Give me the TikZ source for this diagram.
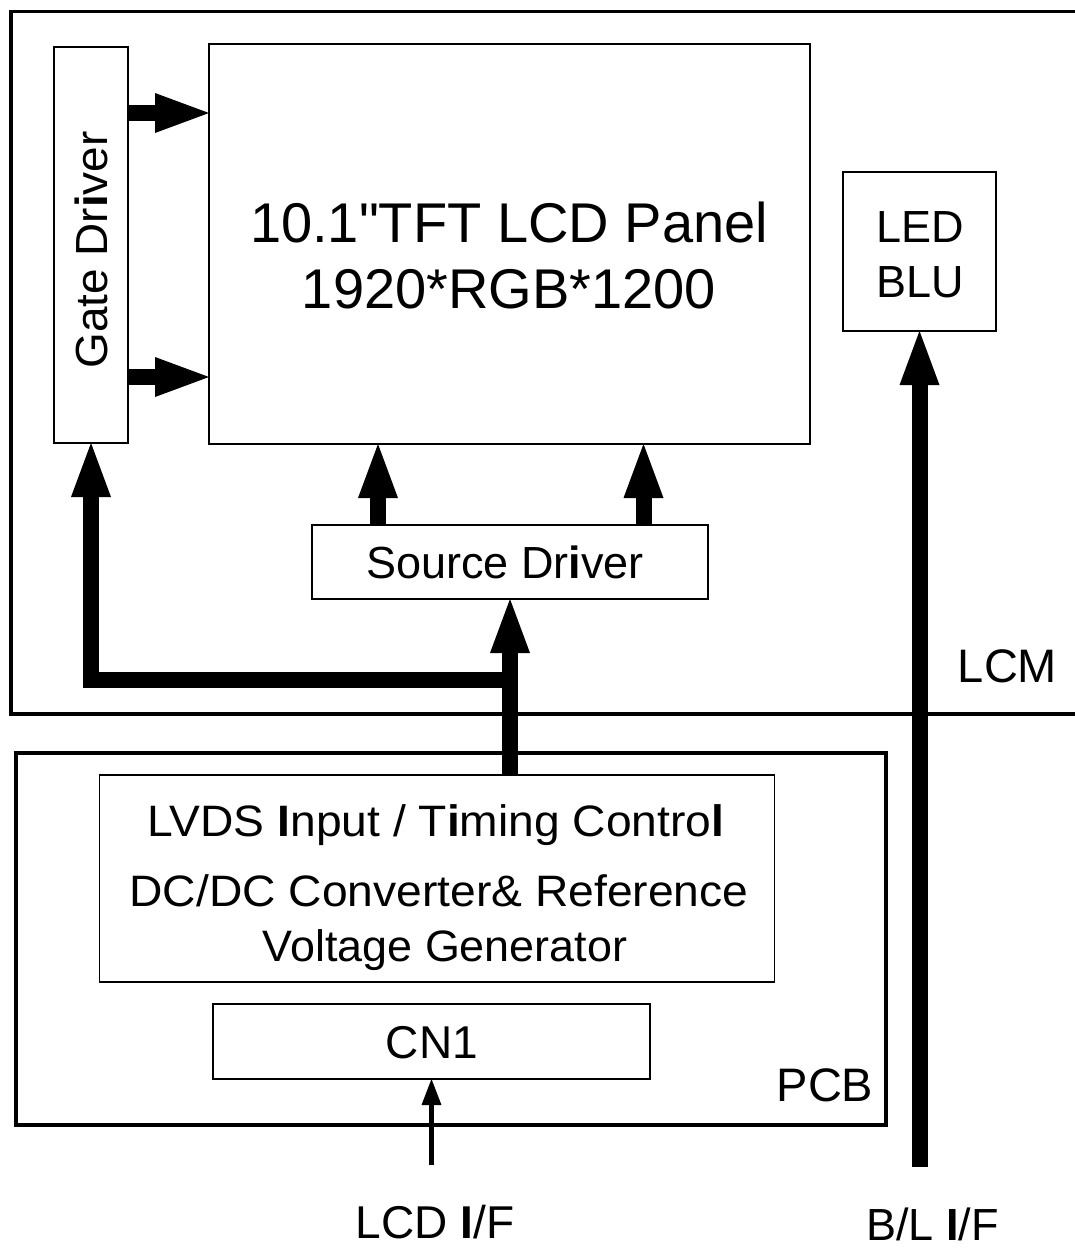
\documentclass[tikz,border=0pt]{standalone}
\usepackage{fontspec}
\setmainfont{Liberation Sans}
\newfontfamily\plainq{Liberation Sans}
\usepackage{graphicx}
\usetikzlibrary{arrows.meta}
\newcommand{\tx}[3]{\scalebox{#2}[1]{\fontsize{#1}{#1}\selectfont #3}}
\begin{document}
\begin{tikzpicture}[x=0.5pt,y=-0.5pt,
  box/.style={draw, line width=0.8pt, inner sep=0pt, outer sep=0pt},
  lbl/.style={inner sep=0pt, anchor=base},
  fat/.style={line width=8pt, -{Triangle[length=27pt,width=20pt,line width=0pt]}},
  thinarr/.style={line width=2.5pt, -{Triangle[length=13pt,width=10pt,line width=0pt]}},
  frame/.style={line width=1.6pt}]
\useasboundingbox (0,0) rectangle (1075,1249);

% LCM frame (open at right)
\draw[frame] (1075,11.5) -- (11,11.5) -- (11,714) -- (1075,714);

% boxes
\node[box, minimum width=37pt, minimum height=198pt] (gate) at (91,245) {};
\node[box, minimum width=300.5pt, minimum height=200pt] (panel) at (509.5,244) {};
\node[box, minimum width=76.5pt, minimum height=79.5pt] (led) at (919.5,251.5) {};
\node[box, minimum width=198pt, minimum height=37pt] (src) at (510,562) {};
\node[draw, frame, inner sep=0pt, outer sep=0pt, minimum width=435pt, minimum height=186pt] (pcb) at (451,939) {};
\node[box, minimum width=337.5pt, minimum height=103.5pt] (lvds) at (437,878.5) {};
\node[box, minimum width=218.5pt, minimum height=37.5pt] (cn1) at (431.5,1041.5) {};

% texts
\node[lbl] (t1) at (509,242) {\tx{28pt}{1}{10.1{\plainq"}TFT LCD Panel}};
\node[lbl] (t2) at (509,308) {\tx{28pt}{1}{1920*RGB*1200}};
\node[lbl, rotate=90] (tg) at (107,250) {\tx{22.5pt}{1.02}{Gate Dr\textbf{i}ver}};
\node[lbl] (tled) at (920,242) {\tx{22.5pt}{1}{LED}};
\node[lbl] (tblu) at (920,297) {\tx{22.5pt}{1}{BLU}};
\node[lbl] (tsrc) at (505,578) {\tx{22.5pt}{1}{Source Dr\textbf{i}ver}};
\node[lbl] (tlcm) at (1007.5,682) {\tx{23.5pt}{1}{LCM}};
\node[lbl] (tl1) at (436,836) {\tx{22pt}{1.05}{LVDS \textbf{I}nput / T\textbf{i}ming Contro\textbf{l}}};
\node[lbl] (tl2) at (439,906) {\tx{22pt}{1.05}{DC/DC Converter\& Reference}};
\node[lbl] (tl3) at (445,961) {\tx{22pt}{1.02}{Voltage Generator}};
\node[lbl] (tcn) at (432,1058) {\tx{23pt}{1}{CN1}};
\node[lbl] (tpcb) at (825,1101) {\tx{23.5pt}{1}{PCB}};
\node[lbl] (tlcd) at (435,1238) {\tx{23pt}{1}{LCD \textbf{I}/F}};
\node[lbl] (tbl) at (932.5,1240) {\tx{22.5pt}{1}{B/L \textbf{I}/F}};

% connectors
\coordinate (ga) at (0,113);
\coordinate (gb) at (0,377);
\draw[fat] (gate.east |- ga) -- (panel.west |- ga);
\draw[fat] (gate.east |- gb) -- (panel.west |- gb);
\coordinate (sa) at (378,0);
\coordinate (sb) at (643.5,0);
\draw[fat] (src.north -| sa) -- (panel.south -| sa);
\draw[fat] (src.north -| sb) -- (panel.south -| sb);
\draw[fat] (lvds.north -| src.south) -- (src.south);
\coordinate (jn) at (510,680);
\draw[fat] (jn) -| (gate.south);
\coordinate (bl) at (919.5,1167);
\draw[fat] (bl) -- (led.south);
\coordinate (lcd) at (431.5,1165);
\draw[thinarr] (lcd) -- (cn1.south);
\end{tikzpicture}
\end{document}
